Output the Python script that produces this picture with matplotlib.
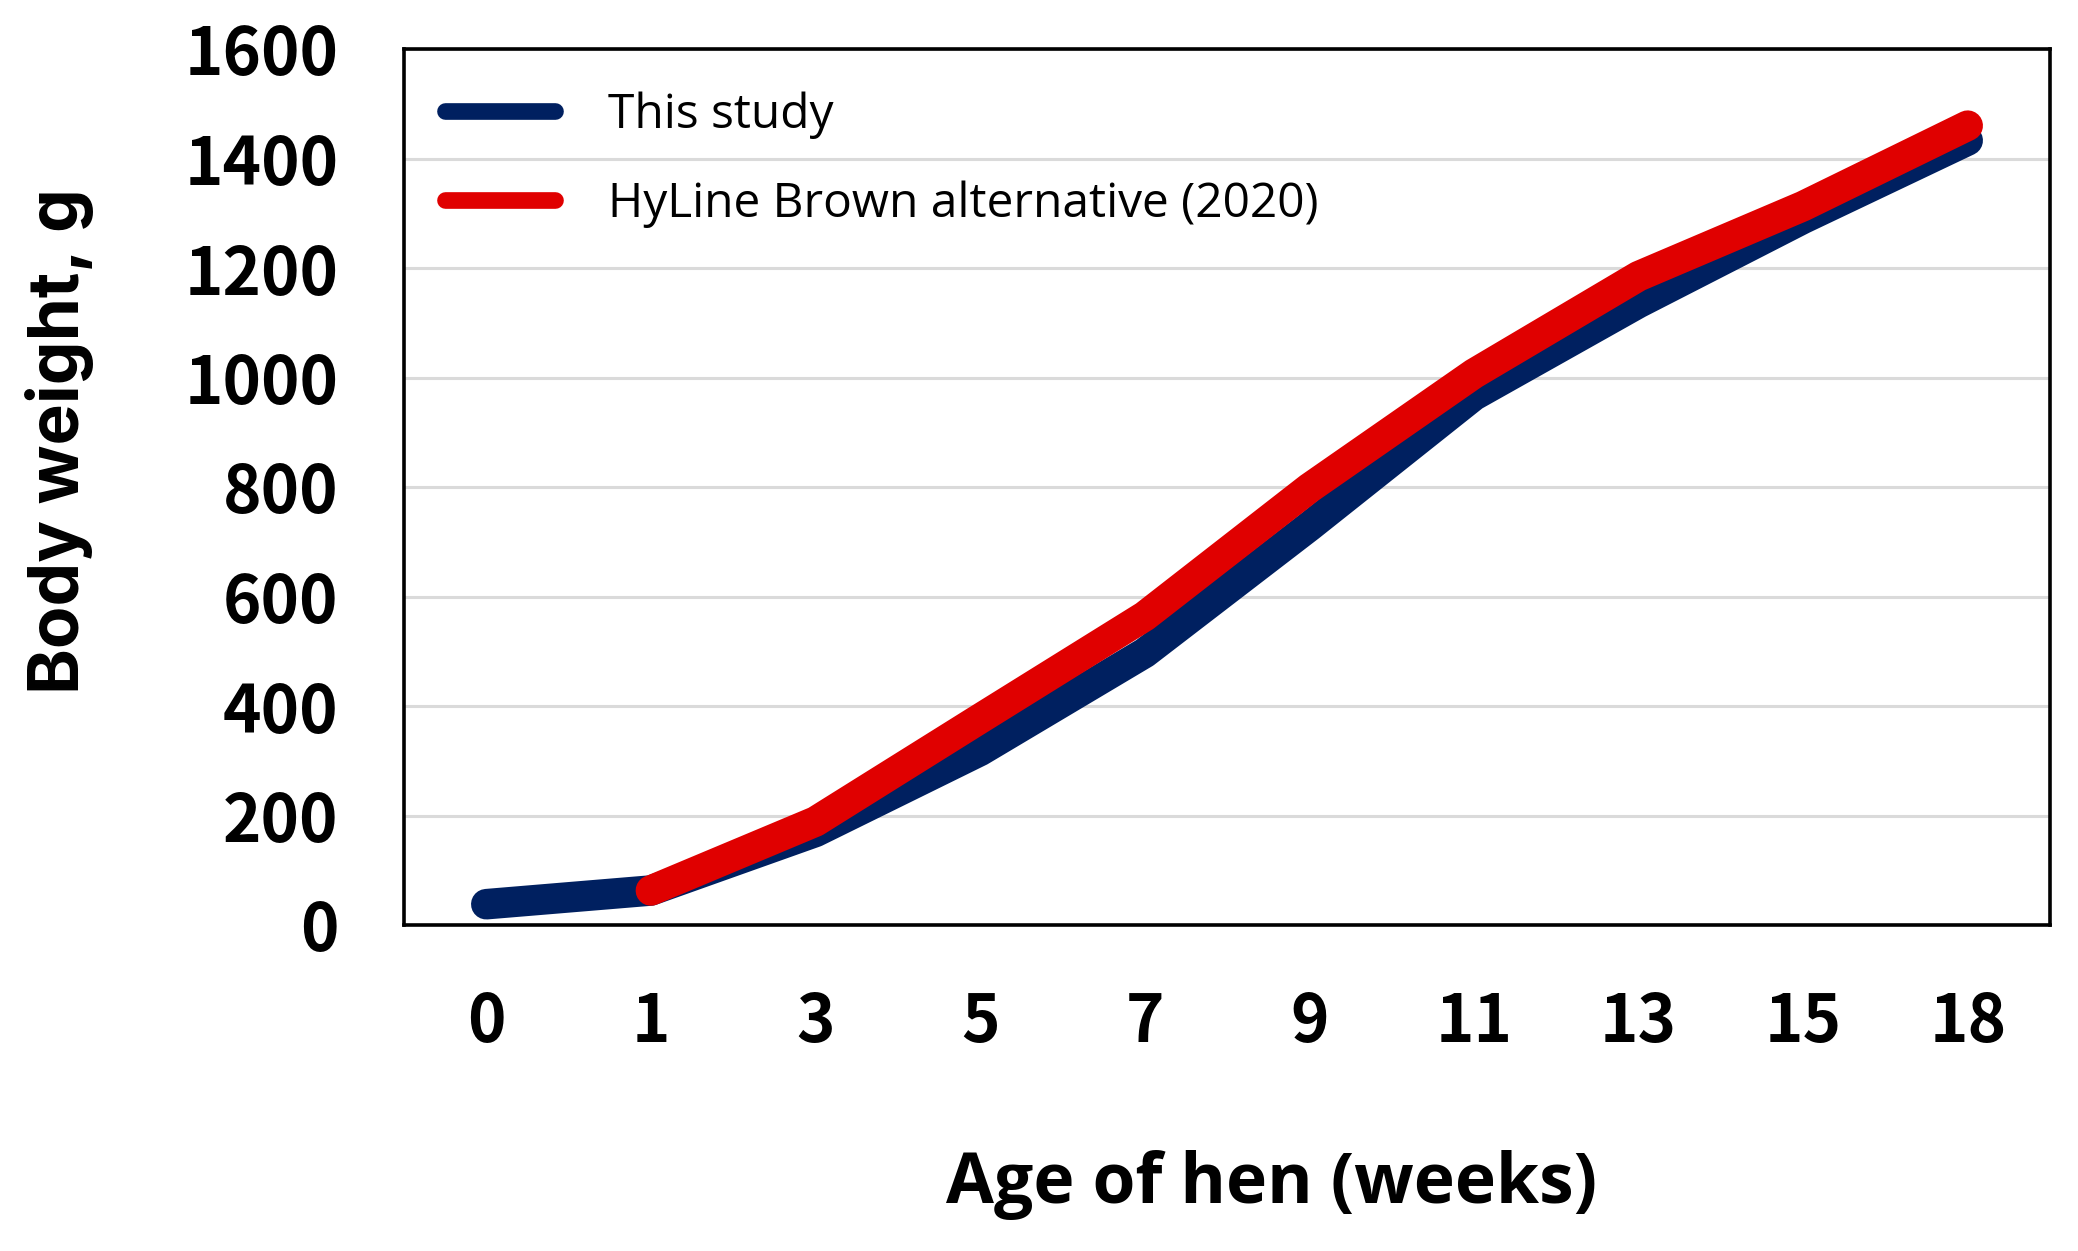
import numpy as np
import matplotlib
matplotlib.use("Agg")
import matplotlib.pyplot as plt

# ---- data ----
weeks = ["0", "1", "3", "5", "7", "9", "11", "13", "15", "18"]
this_study = [38, 63, 170, 318, 497, 728, 967, 1136, 1290, 1433]
hyline = [None, 63, 189, 377, 564, 798, 1007, 1185, 1313, 1460]
series_labels = ["This study", "HyLine Brown alternative (2020)"]
y_ticks = [0, 200, 400, 600, 800, 1000, 1200, 1400, 1600]

BLUE = "#002060"
RED = "#E00000"
CJK = ["Noto Sans CJK KR", "DejaVu Sans"]
LAT = ["Open Sans", "DejaVu Sans"]
YLAB = ["Inter", "DejaVu Sans"]

fig = plt.figure(figsize=(20.78, 12.51), dpi=100)
ax = fig.add_axes([404 / 2078, 1 - 925 / 1251, (2050 - 404) / 2078, (925 - 49) / 1251])

x = np.arange(len(weeks))
y1 = np.array(this_study, dtype=float)
y2 = np.array([np.nan if v is None else v for v in hyline], dtype=float)

l1, = ax.plot(x, y1, color=BLUE, lw=22, solid_capstyle="round",
              solid_joinstyle="round", label=series_labels[0], zorder=3)
l2, = ax.plot(x, y2, color=RED, lw=22, solid_capstyle="round",
              solid_joinstyle="round", label=series_labels[1], zorder=4)

ax.set_xlim(-0.5, len(weeks) - 0.5)
ax.set_ylim(0, 1600)
ax.set_xticks(x)
ax.set_xticklabels(weeks)
ax.set_yticks(y_ticks)
ax.set_yticklabels([str(v) for v in y_ticks])

for lab in ax.get_xticklabels() + ax.get_yticklabels():
    lab.set_family(CJK)
    lab.set_fontweight("bold")
    lab.set_fontsize(47)

ax.tick_params(axis="both", length=0)
ax.tick_params(axis="y", pad=47)
ax.tick_params(axis="x", pad=46)

ax.yaxis.grid(True, color="#DADADA", linewidth=2.2)
ax.set_axisbelow(True)
for s in ax.spines.values():
    s.set_linewidth(2.6)
    s.set_color("black")

ax.set_xlabel("Age of hen (weeks)", family=LAT, fontweight="bold", fontsize=50)
ax.xaxis.set_label_coords(0.527, -0.297)
ax.xaxis.label.set_va("center")

ax.set_ylabel("Body weight, g", family=YLAB, fontweight="bold", fontsize=50)
ax.yaxis.set_label_coords(-0.2094, 0.5525)
ax.yaxis.label.set_va("center")

leg = ax.legend(handles=[l1, l2], loc="upper left", bbox_to_anchor=(0.0249, 0.952),
                frameon=False, borderpad=0, borderaxespad=0,
                handlelength=2.3, handletextpad=1.1, labelspacing=0.88,
                prop={"family": LAT, "size": 34.5})
for h in leg.legend_handles:
    h.set_linewidth(12)
    h.set_solid_capstyle("round")

fig.savefig("out.png", dpi=100, facecolor="white")
